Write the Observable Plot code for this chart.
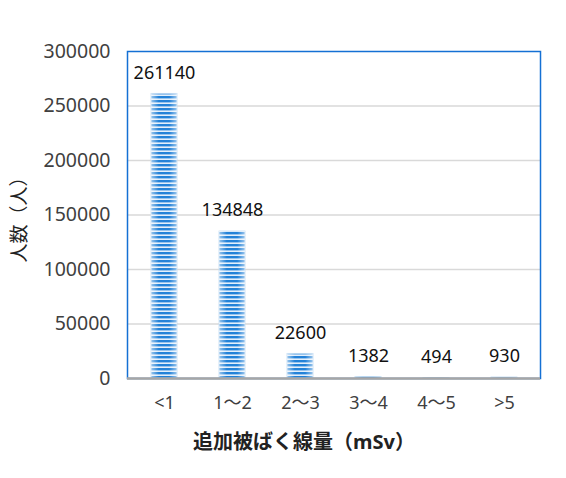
<!DOCTYPE html>
<html>
<head>
<meta charset="utf-8">
<script src="https://cdn.jsdelivr.net/npm/d3@7"></script>
<script src="https://cdn.jsdelivr.net/npm/@observablehq/plot@0.6"></script>
<style>
  body { margin: 0; background: #fff; }
</style>
</head>
<body>
<div id="chart"></div>
<script>
// 追加被ばく線量別の人数
const categories = ["<1", "1～2", "2～3", "3～4", "4～5", ">5"];
const counts = [261140, 134848, 22600, 1382, 494, 930];
const yTicks = [0, 50000, 100000, 150000, 200000, 250000, 300000];

const data = categories.map((c, i) => ({ cat: c, n: counts[i] }));
const gridTicks = yTicks.filter(t => t > 0 && t < 300000);

const chart = Plot.plot({
  width: 566,
  height: 478,
  marginLeft: 127,
  marginRight: 26,
  marginTop: 51,
  marginBottom: 100,
  style: {
    fontFamily: "'Noto Sans', 'Noto Sans CJK JP', sans-serif",
    fontSize: "18px",
    color: "#404040",
    background: "#fff"
  },
  x: {
    domain: categories,
    paddingInner: 0.62,
    paddingOuter: 0.31,
    label: "追加被ばく線量（mSv）",
    labelAnchor: "center",
    labelOffset: 70,
    tickSize: 0,
    tickPadding: 18
  },
  y: {
    domain: [0, 300000],
    ticks: yTicks,
    tickFormat: d3.format("d"),
    tickSize: 0,
    tickPadding: 17,
    label: "人数（人）",
    labelAnchor: "center",
    labelArrow: "none",
    labelOffset: 115
  },
  marks: [
    Plot.ruleY(gridTicks, { stroke: "#d9d9d9", strokeWidth: 1.5 }),
    Plot.barY(data, { x: "cat", y: "n", fill: "url(#stripes)", stroke: "#c4dcf3", strokeWidth: 0.8 }),
    Plot.barY(data, { x: "cat", y: "n", fill: "url(#edgeShade)" }),
    Plot.frame({ stroke: "#1470d4", strokeWidth: 1.5 }),
    Plot.ruleY([0], { stroke: "#a6a6a6", strokeWidth: 2.5 }),
    Plot.text(data, {
      x: "cat",
      y: "n",
      text: d => String(d.n),
      dy: -21,
      fill: "#111",
      fontSize: 18
    })
  ]
});

// stripe pattern and edge shading for the bars
const svg = d3.select(chart);
const defs = svg.insert("defs", ":first-child");
const pat = defs.append("pattern")
  .attr("id", "stripes")
  .attr("patternUnits", "userSpaceOnUse")
  .attr("width", 10)
  .attr("height", 4);
pat.append("rect").attr("width", 10).attr("height", 4).attr("fill", "#e3effb");
pat.append("rect").attr("width", 10).attr("height", 2.4).attr("fill", "#2382d8");

const grad = defs.append("linearGradient")
  .attr("id", "edgeShade")
  .attr("x1", 0).attr("x2", 1).attr("y1", 0).attr("y2", 0);
[[0, 0.55], [0.3, 0], [0.7, 0], [1, 0.55]].forEach(([o, a]) => {
  grad.append("stop").attr("offset", o).attr("stop-color", "#fff").attr("stop-opacity", a);
});

svg.select('g[aria-label="y-axis tick label"]').attr("font-size", 19.5);

const xLab = svg.select('g[aria-label="x-axis label"]')
  .attr("font-size", 20)
  .attr("font-weight", "bold")
  .attr("fill", "#222");
xLab.attr("transform", "translate(-30,0) " + (xLab.attr("transform") || ""));

svg.select('g[aria-label="y-axis label"]')
  .attr("font-size", 19)
  .attr("font-weight", "normal")
  .attr("fill", "#222");

document.getElementById("chart").appendChild(chart);
</script>
</body>
</html>
